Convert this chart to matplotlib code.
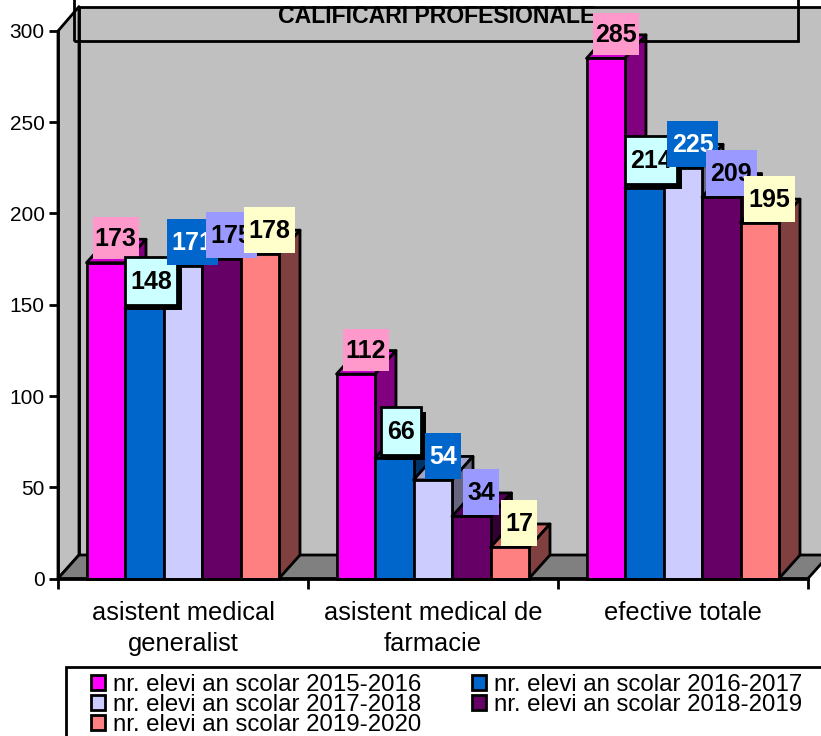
import matplotlib
matplotlib.use("Agg")
import matplotlib.pyplot as plt
from matplotlib.patches import Polygon, Rectangle

plt.rcParams['font.family'] = ['Liberation Sans', 'DejaVu Sans']

categories = ["asistent medical\ngeneralist", "asistent medical de\nfarmacie", "efective totale"]
series_names = ["nr. elevi an scolar 2015-2016", "nr. elevi an scolar 2016-2017",
                "nr. elevi an scolar 2017-2018", "nr. elevi an scolar 2018-2019",
                "nr. elevi an scolar 2019-2020"]
values_2015 = [173, 112, 285]
values_2016 = [148, 66, 214]
values_2017 = [171, 54, 225]
values_2018 = [175, 34, 209]
values_2019 = [178, 17, 195]
all_values = [values_2015, values_2016, values_2017, values_2018, values_2019]
y_ticks = [0, 50, 100, 150, 200, 250, 300]

front_colors = ['#FF00FF', '#0066CC', '#CCCCFF', '#660066', '#FF8080']
top_colors = ['#CC00CC', '#0052A3', '#A3A3CC', '#520052', '#CC6666']
side_colors = ['#800080', '#003366', '#666680', '#330033', '#804040']
box_colors = ['#FF99CC', '#CCFFFF', '#0066CC', '#9999FF', '#FFFFCC']
text_colors = ['black', 'black', 'white', 'black', 'black']
box_offx = [10, 7, 10, 10, 9.5]
box_offy = [24.5, 27.5, 24, 24, 24]
box_w3 = [46, 52, 51, 51, 51]
box_w2 = [46, 40, 36, 36, 36]
box_h = [42, 48, 46, 46, 46]

W, H = 821, 736
LW = 2.0
fig = plt.figure(figsize=(W / 100, H / 100), dpi=100, facecolor='white')
ax = fig.add_axes([58 / W, (H - 578.5) / H, 750 / W, 547.5 / H])
ax.set_xlim(0, 3)
ax.set_ylim(0, 300)
ax.patch.set_visible(False)
ux = 3 / 750       # data units per pixel
uy = 300 / 547.5
DX, DY = 21 * ux, 23.5 * uy
poly = dict(ec='black', lw=LW, clip_on=False, joinstyle='round')

# walls and floor
ax.add_patch(Polygon([(DX, DY), (3 + DX, DY), (3 + DX, 300 + DY * 1.04), (DX, 300 + DY * 1.04)],
                     fc='#C0C0C0', zorder=1, **poly))
ax.add_patch(Polygon([(0, 0), (DX, DY), (DX, 300 + DY * 1.04), (0, 300)],
                     fc='#C0C0C0', zorder=1, **poly))
ax.add_patch(Polygon([(0, 0), (DX, DY), (3 + DX, DY), (3, 0)],
                     fc='#808080', zorder=1, **poly))

# bars
bw = 38.5 * ux
start = 28.5 * ux
for s, vals in enumerate(all_values):
    z = 3 + s * 0.1
    xs = [g + start + s * bw for g in range(3)]
    for x, v in zip(xs, vals):
        ax.add_patch(Polygon([(x, v), (x + bw, v), (x + bw + DX, v + DY), (x + DX, v + DY)],
                             fc=top_colors[s], zorder=z, **poly))
        ax.add_patch(Polygon([(x + bw, 0), (x + bw + DX, DY), (x + bw + DX, v + DY), (x + bw, v)],
                             fc=side_colors[s], zorder=z, **poly))
    ax.bar(xs, vals, width=bw, align='edge', color=front_colors[s], edgecolor='black',
           linewidth=LW, clip_on=False, zorder=z + 0.01)

# title frame (drawn through, no fill)
ax.add_patch(Rectangle((16 * ux, (578.5 - 41) * uy), 724 * ux, 60 * uy, fc='none', ec='black',
                       lw=LW, clip_on=False, zorder=5))
ax.text(378.5 * ux, (578.5 - 17) * uy, "CALIFICARI PROFESIONALE", ha='center', va='center',
        fontsize=16.6, fontweight='bold', zorder=5.5, clip_on=False)

# data labels
for s, vals in enumerate(all_values):
    z = 6 + s * 0.1
    for g, v in enumerate(vals):
        cx = g + start + (s + 0.5) * bw + box_offx[s] * ux
        cy = v + box_offy[s] * uy
        w = (box_w3[s] if v >= 100 else box_w2[s]) * ux
        h = box_h[s] * uy
        bordered = s == 1
        if bordered:
            ax.add_patch(Rectangle((cx - w / 2 + 5 * ux, cy - h / 2 - 5 * uy), w, h, fc='black',
                                   ec='black', lw=0, clip_on=False, zorder=z))
        ax.add_patch(Rectangle((cx - w / 2, cy - h / 2), w, h, fc=box_colors[s],
                               ec='black' if bordered else 'none', lw=LW if bordered else 0,
                               clip_on=False, zorder=z + 0.01))
        ax.text(cx, cy - 1 * uy, str(v), ha='center', va='center', fontsize=18, fontweight='bold',
                color=text_colors[s], zorder=z + 0.02, clip_on=False)

# axes
for side in ('top', 'right'):
    ax.spines[side].set_visible(False)
for side in ('left', 'bottom'):
    ax.spines[side].set_linewidth(LW)
    ax.spines[side].set_zorder(4)
ax.set_yticks(y_ticks)
ax.tick_params(axis='y', length=6.5, width=LW, labelsize=15, pad=3)
ax.set_xticks([0, 1, 2, 3])
ax.set_xticklabels([])
ax.set_xticks([0.5, 1.5, 2.5], minor=True)
ax.set_xticklabels(categories, minor=True, fontsize=18.3, linespacing=1.38)
ax.tick_params(axis='x', which='major', length=7, width=LW)
ax.tick_params(axis='x', which='minor', length=0, pad=16)

# legend frame and legend
fig.add_artist(Rectangle((66 / W, -10 / H), 800 / W, (H - 667 + 10) / H, transform=fig.transFigure,
                         fc='white', ec='black', lw=LW))
order = [0, 2, 4, 1, 3]
handles = [Rectangle((0, 0), 1, 1, fc=front_colors[i], ec='black', lw=LW) for i in order]
labels = [series_names[i] for i in order]
fig.legend(handles, labels, ncols=2, loc='upper left', bbox_to_anchor=(91 / W, (H - 674) / H),
           frameon=False, fontsize=17.3, borderpad=0, borderaxespad=0, labelspacing=-0.09,
           handlelength=0.6, handleheight=0.6, handletextpad=0.32, columnspacing=2.1)

fig.savefig('out.png', dpi=100)
